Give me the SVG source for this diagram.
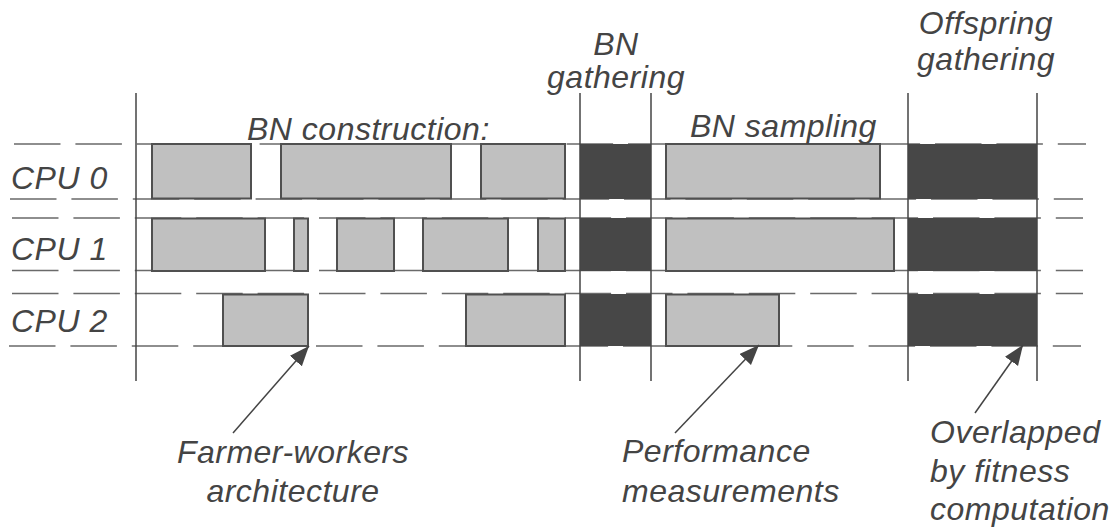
<svg xmlns="http://www.w3.org/2000/svg" width="1119" height="531" viewBox="0 0 1119 531">
  <style>
    .t { font-family: "Liberation Sans", Arial, sans-serif; font-style: italic; font-size: 32px; letter-spacing: 0.5px; fill: #444; }
    .grid { stroke: #6a6a6a; stroke-width: 1.5; stroke-dasharray: 46.5 14.9; fill: none; }
    .vl { stroke: #444; stroke-width: 1.5; fill: none; }
    .lb { fill: #c0c0c0; stroke: #505050; stroke-width: 2; }
    .db { fill: #474747; stroke: none; }
    .arr { stroke: #444; stroke-width: 1.5; fill: none; marker-end: url(#ah); }
  </style>
  <defs>
    <marker id="ah" markerUnits="userSpaceOnUse" markerWidth="22" markerHeight="18" refX="20" refY="8" orient="auto">
      <path d="M0,0 L20,8 L0,16 Z" fill="#444"/>
    </marker>
  </defs>
  <rect width="1119" height="531" fill="#fff"/>

  <g id="grid-lines">
    <line class="grid" x1="14" y1="144" x2="1086" y2="144"/>
    <line class="grid" x1="10" y1="199" x2="1083" y2="199"/>
    <line class="grid" x1="12" y1="218" x2="1083" y2="218"/>
    <line class="grid" x1="12" y1="270.5" x2="1083" y2="270.5"/>
    <line class="grid" x1="12" y1="293.5" x2="1083" y2="293.5"/>
    <line class="grid" x1="9" y1="346" x2="1081" y2="346"/>
  </g>

  <g id="cpu0">
    <rect class="lb" x="152" y="144" width="99" height="54.5"/>
    <rect class="lb" x="281" y="144" width="170" height="54.5"/>
    <rect class="lb" x="481" y="144" width="84" height="54.5"/>
    <rect class="db" x="580" y="144" width="71" height="55"/>
    <rect class="lb" x="666" y="144" width="214" height="54.5"/>
    <rect class="db" x="908" y="144" width="129" height="55"/>
  </g>
  <g id="cpu1">
    <rect class="lb" x="152" y="218.5" width="113" height="52.5"/>
    <rect class="lb" x="294" y="218.5" width="14" height="52.5"/>
    <rect class="lb" x="337" y="218.5" width="57" height="52.5"/>
    <rect class="lb" x="423" y="218.5" width="85" height="52.5"/>
    <rect class="lb" x="538" y="218.5" width="27" height="52.5"/>
    <rect class="db" x="580" y="218" width="71" height="53"/>
    <rect class="lb" x="666" y="218.5" width="228" height="52.5"/>
    <rect class="db" x="908" y="218" width="129" height="53"/>
  </g>
  <g id="cpu2">
    <rect class="lb" x="223" y="294.5" width="85" height="51.5"/>
    <rect class="lb" x="466" y="294.5" width="99" height="51.5"/>
    <rect class="db" x="580" y="294" width="71" height="52"/>
    <rect class="lb" x="666" y="294.5" width="113" height="51.5"/>
    <rect class="db" x="908" y="294" width="129" height="52"/>
  </g>

  <g id="phase-lines">
    <line class="vl" x1="136" y1="93" x2="136" y2="381"/>
    <line class="vl" x1="580" y1="93" x2="580" y2="381"/>
    <line class="vl" x1="651" y1="93" x2="651" y2="381"/>
    <line class="vl" x1="908" y1="93" x2="908" y2="381"/>
    <line class="vl" x1="1037" y1="93" x2="1037" y2="381"/>
  </g>

  <g id="row-labels">
    <text class="t" x="11" y="189">CPU 0</text>
    <text class="t" x="11" y="260">CPU 1</text>
    <text class="t" x="11" y="332">CPU 2</text>
  </g>

  <g id="phase-labels">
    <text class="t" x="247" y="140">BN construction:</text>
    <text class="t" x="616" y="55" text-anchor="middle">BN</text>
    <text class="t" x="616" y="88" text-anchor="middle">gathering</text>
    <text class="t" x="690" y="137">BN sampling</text>
    <text class="t" x="986" y="34" text-anchor="middle">Offspring</text>
    <text class="t" x="986" y="70" text-anchor="middle">gathering</text>
  </g>

  <g id="connectors">
    <line class="arr" x1="233" y1="433" x2="309" y2="346"/>
    <line class="arr" x1="675" y1="433" x2="759" y2="345"/>
    <line class="arr" x1="975" y1="413" x2="1023" y2="345"/>
  </g>

  <g id="annotations">
    <text class="t" x="293" y="463" text-anchor="middle">Farmer-workers</text>
    <text class="t" x="293" y="502" text-anchor="middle">architecture</text>
    <text class="t" x="622" y="462">Performance</text>
    <text class="t" x="622" y="502">measurements</text>
    <text class="t" x="930" y="443">Overlapped</text>
    <text class="t" x="930" y="482">by fitness</text>
    <text class="t" x="930" y="520">computation</text>
  </g>
</svg>
